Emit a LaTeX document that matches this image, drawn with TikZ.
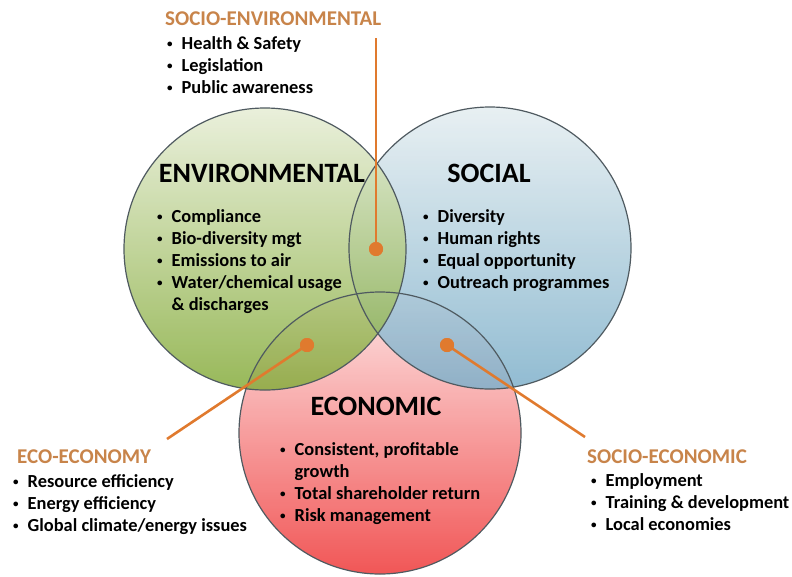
\documentclass[tikz,border=0pt]{standalone}
\usepackage{fontspec}
\usepackage{graphicx}
\setmainfont{Carlito}
\usetikzlibrary{positioning}

\definecolor{envtop}{HTML}{E6EDD5}
\definecolor{envbot}{HTML}{86AC3C}
\definecolor{soctop}{HTML}{E4EDF0}
\definecolor{socbot}{HTML}{7EB0CA}
\definecolor{ecotop}{HTML}{FCE2E2}
\definecolor{ecobot}{HTML}{F04444}
\definecolor{ringgray}{HTML}{4F5A60}
\definecolor{tagorange}{HTML}{C8844A}
\definecolor{leadorange}{HTML}{E07A2E}

\newcommand{\bul}{\raisebox{0.2ex}{\scalebox{0.6}{\textbullet}}}
\newcommand{\bitems}[1]{\begin{tabular}[t]{@{}l@{\hspace{9pt}}l@{}}#1\end{tabular}}

\begin{document}
\begin{tikzpicture}[x=1pt,y=-1pt,
	ring/.style={draw=ringgray, line width=1.2pt},
	head/.style={font=\fontsize{28}{32}\selectfont\bfseries, inner sep=0pt, anchor=base},
	tag/.style={font=\fontsize{21}{24}\selectfont\bfseries, text=tagorange, inner sep=0pt, anchor=base west},
	items/.style={font=\fontsize{18.4}{22}\selectfont\bfseries, inner sep=0pt, anchor=base west},
	hub/.style={circle, fill=leadorange, inner sep=0pt, minimum size=14pt},
	leader/.style={leadorange, line width=2.6pt}]
	
	\useasboundingbox (0,0) rectangle (792,576);
	
	% the three circles
	\shade [top color=ecotop, bottom color=ecobot, fill opacity=0.9] (380,433) circle [radius=141];
	\shade [top color=soctop, bottom color=socbot, fill opacity=0.85] (490,248) circle [radius=141];
	\shade [top color=envtop, bottom color=envbot, fill opacity=0.85] (265,249) circle [radius=141];
	
	\draw [ring] (380,433) circle [radius=141];
	\draw [ring] (490,248) circle [radius=141];
	\draw [ring] (265,249) circle [radius=141];
	
	% leaders
	\node [hub] (sedot) at (376,249) {};
	\node [hub] (eedot) at (307,345) {};
	\node [hub] (scdot) at (447,345) {};
	\coordinate (seend) at (376,38);
	\coordinate (eeend) at (167,439);
	\coordinate (scend) at (585,437);
	
	\draw [leader] (sedot.center) -- (seend);
	\draw [leader] (eedot.center) -- (eeend);
	\draw [leader] (scdot.center) -- (scend);
	\node [hub] at (sedot) {};
	\node [hub] at (eedot) {};
	\node [hub] at (scdot) {};
	
	% headings
	\node [head] (env) at (262,182) {ENVIRONMENTAL};
	\node [head] (soc) at (489,182) {SOCIAL};
	\node [head] (eco) at (376,415) {ECONOMIC};
	
	\node [items] (envlist) at (157,222) {\bitems{%
		\bul & Compliance\\
		\bul & Bio-diversity mgt\\
		\bul & Emissions to air\\
		\bul & Water/chemical usage\\
		& \& discharges}};
	\node [items] (soclist) at (423,222) {\bitems{%
		\bul & Diversity\\
		\bul & Human rights\\
		\bul & Equal opportunity\\
		\bul & Outreach programmes}};
	\node [items] (ecolist) at (280,455) {\bitems{%
		\bul & Consistent, profitable\\
		& growth\\
		\bul & Total shareholder return\\
		\bul & Risk management}};
	
	% overlap labels
	\node [tag] (setag) at (165,25) {SOCIO-ENVIRONMENTAL};
	\node [items] (selist) at (167,49) {\bitems{%
		\bul & Health \& Safety\\
		\bul & Legislation\\
		\bul & Public awareness}};
	
	\node [tag] (eetag) at (17,463) {ECO-ECONOMY};
	\node [items] (eelist) at (13,487) {\bitems{%
		\bul & Resource efficiency\\
		\bul & Energy efficiency\\
		\bul & Global climate/energy issues}};
	
	\node [tag] (sctag) at (587,463) {SOCIO-ECONOMIC};
	\node [items] (sclist) at (591,486) {\bitems{%
		\bul & Employment\\
		\bul & Training \& development\\
		\bul & Local economies}};
	
\end{tikzpicture}
\end{document}
